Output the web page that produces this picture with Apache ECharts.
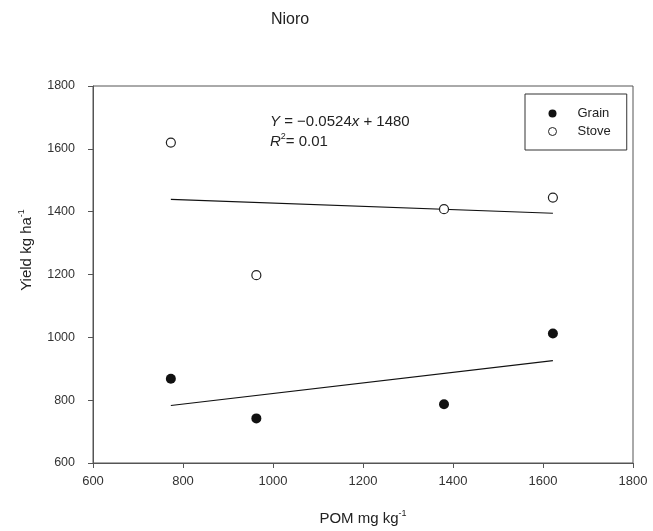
<!DOCTYPE html>
<html>
<head>
<meta charset="utf-8">
<script src="https://cdn.jsdelivr.net/npm/echarts@6/dist/echarts.min.js"></script>
<style>html,body{margin:0;padding:0;background:#fff;}#c{width:653px;height:531px;}</style>
</head>
<body>
<div id="c"></div>
<script>
const grainX = [773, 963, 1380, 1622];
const grainY = [868, 742, 787, 1012];
const stoveX = [773, 963, 1380, 1622];
const stoveY = [1620, 1198, 1408, 1445];
const grainFitX = [773, 1622];
const grainFitY = [783, 926];
const stoveFitX = [773, 1622];
const stoveFitY = [1439, 1395];
const xTicks = [600, 800, 1000, 1200, 1400, 1600, 1800];
const yTicks = [600, 800, 1000, 1200, 1400, 1600, 1800];

const FONT = '"Liberation Sans", Arial, sans-serif';
const pair = (xs, ys) => xs.map((x, i) => [x, ys[i]]);

const chart = echarts.init(document.getElementById('c'));
chart.setOption({
  animation: false,
  backgroundColor: '#fff',
  textStyle: { fontFamily: FONT },
  grid: { left: 93, right: 20, top: 86, bottom: 65, show: true, borderColor: '#555', borderWidth: 1 },
  xAxis: {
    type: 'value', min: xTicks[0], max: xTicks[xTicks.length - 1], interval: 200,
    splitLine: { show: false },
    axisLine: { show: true, lineStyle: { color: '#555', width: 1 } },
    axisTick: { show: true, length: 5, lineStyle: { color: '#555' } },
    axisLabel: { color: '#333', fontSize: 13, margin: 12, fontFamily: FONT, showMaxLabel: true, formatter: v => String(v) },
    name: 'POM mg kg{sup|-1}', nameLocation: 'middle', nameGap: 46,
    nameTextStyle: { color: '#222', fontSize: 15, fontFamily: FONT,
      rich: { sup: { fontSize: 9, verticalAlign: 'top', padding: [0, 0, 10, 0], color: '#222', fontFamily: FONT } } }
  },
  yAxis: {
    type: 'value', min: yTicks[0], max: yTicks[yTicks.length - 1], interval: 200,
    splitLine: { show: false },
    axisLine: { show: true, lineStyle: { color: '#555', width: 1 } },
    axisTick: { show: true, length: 5, lineStyle: { color: '#555' } },
    axisLabel: { color: '#333', fontSize: 12.5, margin: 18, fontFamily: FONT, formatter: v => String(v) }
  },
  legend: {
    orient: 'vertical', left: 525, top: 94,
    padding: [13, 16, 12, 23], itemGap: 5,
    itemWidth: 40, itemHeight: 8,
    borderColor: '#333', borderWidth: 1,
    textStyle: { color: '#222', fontSize: 13, fontFamily: FONT },
    data: [
      { name: 'Grain' },
      { name: 'Stove', itemStyle: { color: '#fff', borderColor: '#222', borderWidth: 1 } }
    ]
  },
  graphic: [
    { type: 'text', x: 290, y: 20, style: { text: 'Nioro', fill: '#222', font: '16px ' + FONT, align: 'center', verticalAlign: 'middle' } },
    { type: 'text', x: 27, y: 250, rotation: Math.PI / 2,
      style: { text: 'Yield kg ha{sup|-1}', fill: '#222', fontSize: 15, fontFamily: FONT, align: 'center', verticalAlign: 'middle',
        rich: { sup: { fontSize: 9, verticalAlign: 'top', padding: [0, 0, 10, 0], fill: '#222', fontFamily: FONT } } } },
    { type: 'text', x: 270, y: 122,
      style: { text: '{i|Y} = \u22120.0524{i|x} + 1480', fill: '#222', fontSize: 15, fontFamily: FONT, align: 'left', verticalAlign: 'middle',
        rich: { i: { fontStyle: 'italic', fontSize: 15, fontFamily: FONT, fill: '#222' } } } },
    { type: 'text', x: 270, y: 142,
      style: { text: '{i|R}{sup|2}= 0.01', fill: '#222', fontSize: 15, fontFamily: FONT, align: 'left', verticalAlign: 'middle',
        rich: { i: { fontStyle: 'italic', fontSize: 15, fontFamily: FONT, fill: '#222' },
                sup: { fontSize: 9, verticalAlign: 'top', padding: [0, 0, 10, 0], fill: '#222', fontFamily: FONT } } } }
  ],
  series: [
    { name: 'Grain', type: 'scatter', symbol: 'circle', symbolSize: 10,
      itemStyle: { color: '#111', borderColor: '#111', borderWidth: 0, opacity: 1 },
      data: pair(grainX, grainY), z: 5 },
    { name: 'Stove', type: 'scatter', symbol: 'circle', symbolSize: 9,
      itemStyle: { color: '#fff', borderColor: '#222', borderWidth: 1.2, opacity: 1 },
      data: pair(stoveX, stoveY), z: 5 },
    { name: 'GrainFit', type: 'line', data: pair(grainFitX, grainFitY), symbol: 'none',
      lineStyle: { color: '#111', width: 1.2 }, silent: true, z: 3 },
    { name: 'StoveFit', type: 'line', data: pair(stoveFitX, stoveFitY), symbol: 'none',
      lineStyle: { color: '#111', width: 1.2 }, silent: true, z: 3 }
  ]
});
</script>
</body>
</html>
